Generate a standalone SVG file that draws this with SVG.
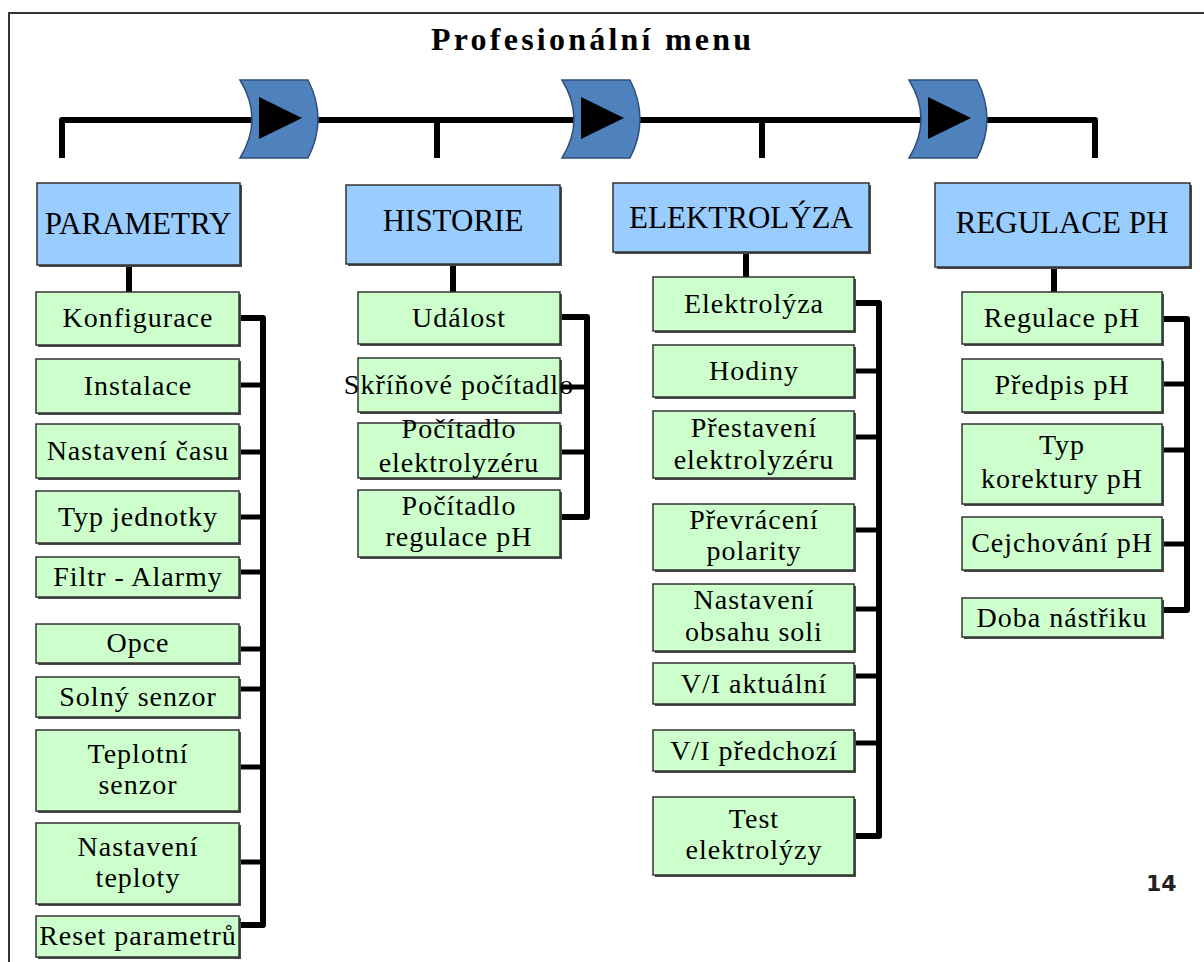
<svg xmlns="http://www.w3.org/2000/svg" width="1204" height="962" viewBox="0 0 1204 962">
<defs>
<style>
.frame{stroke:#333;stroke-width:2;fill:none}
.wire{stroke:#000;stroke-width:6;fill:none;stroke-linejoin:round;stroke-linecap:butt}
.stub{stroke:#000;stroke-width:5;fill:none}
.shadow{fill:#4a4a4a}
.hdr{fill:#99CCFF;stroke:#333;stroke-width:1.5}
.item{fill:#CCFFCC;stroke:#333;stroke-width:1.5}
.chev{fill:#4F81BD;stroke:#2F4F7A;stroke-width:1.5}
.tri{fill:#000}
text{font-family:"Liberation Serif","Times New Roman",serif;fill:#000;text-anchor:middle}
.ht{font-size:31px}
.it{font-size:28px;letter-spacing:1px}
.title{font-size:32px;font-weight:bold;text-anchor:start}
.pg{font-family:"DejaVu Sans","Liberation Sans",sans-serif;font-size:22px;font-weight:bold;fill:#222;text-anchor:start}
</style>
<g id="chevron">
<path class="chev" d="M240,80 L308,80 Q328,119 308,158 L240,158 Q264,119 240,80 Z"/>
<polygon class="tri" points="259,97 259,139 302,118"/>
</g>
</defs>
<rect width="1204" height="962" fill="#fff"/>
<path class="frame" d="M9,962 V13 H1204"/>
<text class="title" x="431" y="50" textLength="320" lengthAdjust="spacing">Profesionální menu</text>
<g id="connectors">
<path class="wire" d="M62,158 V120 H1095 V158"/>
<line class="wire" x1="437" y1="120" x2="437" y2="158"/>
<line class="wire" x1="762" y1="120" x2="762" y2="158"/>
<line class="wire" x1="129" y1="265" x2="129" y2="292"/>
<line class="wire" x1="453" y1="264" x2="453" y2="292"/>
<line class="wire" x1="746" y1="252" x2="746" y2="277"/>
<line class="wire" x1="1054" y1="267" x2="1054" y2="292"/>
<path class="wire" d="M239,318 H263 V925 H239"/>
<path class="stub" d="M239,385 H263 M239,452 H263 M239,517 H263 M239,572 H263 M239,649 H263 M239,689 H263 M239,767 H263 M239,862 H263"/>
<path class="wire" d="M560,317 H587 V517 H560"/>
<path class="stub" d="M560,387 H587 M560,452 H587"/>
<path class="wire" d="M854,303 H879 V836 H854"/>
<path class="stub" d="M854,371 H879 M854,437 H879 M854,530 H879 M854,609 H879 M854,676 H879 M854,743 H879"/>
<path class="wire" d="M1162,319 H1187 V610 H1162"/>
<path class="stub" d="M1162,384 H1187 M1162,450 H1187 M1162,544 H1187"/>
</g>
<g id="arrow1"><use href="#chevron"/></g>
<g id="arrow2" transform="translate(322,0)"><use href="#chevron"/></g>
<g id="arrow3" transform="translate(669,0)"><use href="#chevron"/></g>

<g id="h-parametry"><rect class="shadow" x="39" y="185" width="203" height="82"/><rect class="hdr" x="37" y="183" width="203" height="82"/><text class="ht" x="138" y="234">PARAMETRY</text></g>
<g id="h-historie"><rect class="shadow" x="348" y="187" width="214" height="79"/><rect class="hdr" x="346" y="185" width="214" height="79"/><text class="ht" x="453" y="231">HISTORIE</text></g>
<g id="h-elektrolyza"><rect class="shadow" x="615" y="185" width="256" height="69"/><rect class="hdr" x="613" y="183" width="256" height="69"/><text class="ht" x="741" y="228">ELEKTROLÝZA</text></g>
<g id="h-regulace"><rect class="shadow" x="937" y="185" width="255" height="84"/><rect class="hdr" x="935" y="183" width="255" height="84"/><text class="ht" x="1062" y="233">REGULACE PH</text></g>

<g id="p1"><rect class="shadow" x="38" y="294" width="203" height="53"/><rect class="item" x="36" y="292" width="203" height="53"/><text class="it" x="138" y="327">Konfigurace</text></g>
<g id="p2"><rect class="shadow" x="38" y="361" width="203" height="54"/><rect class="item" x="36" y="359" width="203" height="54"/><text class="it" x="138" y="395">Instalace</text></g>
<g id="p3"><rect class="shadow" x="38" y="426" width="203" height="54"/><rect class="item" x="36" y="424" width="203" height="54"/><text class="it" x="138" y="460">Nastavení času</text></g>
<g id="p4"><rect class="shadow" x="38" y="493" width="203" height="52"/><rect class="item" x="36" y="491" width="203" height="52"/><text class="it" x="138" y="526">Typ jednotky</text></g>
<g id="p5"><rect class="shadow" x="38" y="559" width="203" height="40"/><rect class="item" x="36" y="557" width="203" height="40"/><text class="it" x="138" y="586">Filtr - Alarmy</text></g>
<g id="p6"><rect class="shadow" x="38" y="626" width="203" height="39"/><rect class="item" x="36" y="624" width="203" height="39"/><text class="it" x="138" y="652">Opce</text></g>
<g id="p7"><rect class="shadow" x="38" y="679" width="203" height="40"/><rect class="item" x="36" y="677" width="203" height="40"/><text class="it" x="138" y="706">Solný senzor</text></g>
<g id="p8"><rect class="shadow" x="38" y="732" width="203" height="81"/><rect class="item" x="36" y="730" width="203" height="81"/><text class="it" x="138" y="763">Teplotní<tspan x="138" dy="31">senzor</tspan></text></g>
<g id="p9"><rect class="shadow" x="38" y="825" width="203" height="81"/><rect class="item" x="36" y="823" width="203" height="81"/><text class="it" x="138" y="856">Nastavení<tspan x="138" dy="31">teploty</tspan></text></g>
<g id="p10"><rect class="shadow" x="38" y="918" width="203" height="41"/><rect class="item" x="36" y="916" width="203" height="41"/><text class="it" x="138" y="945">Reset parametrů</text></g>

<g id="h1"><rect class="shadow" x="360" y="294" width="202" height="52"/><rect class="item" x="358" y="292" width="202" height="52"/><text class="it" x="459" y="327">Událost</text></g>
<g id="h2"><rect class="shadow" x="360" y="360" width="202" height="54"/><rect class="item" x="358" y="358" width="202" height="54"/><text class="it" x="459" y="394">Skříňové počítadlo</text></g>
<g id="h3"><rect class="shadow" x="360" y="425" width="202" height="55"/><rect class="item" x="358" y="423" width="202" height="55"/><text class="it" x="459" y="438">Počítadlo<tspan x="459" dy="34">elektrolyzéru</tspan></text></g>
<g id="h4"><rect class="shadow" x="360" y="492" width="202" height="67"/><rect class="item" x="358" y="490" width="202" height="67"/><text class="it" x="459" y="515">Počítadlo<tspan x="459" dy="31">regulace pH</tspan></text></g>

<g id="e1"><rect class="shadow" x="655" y="279" width="201" height="54"/><rect class="item" x="653" y="277" width="201" height="54"/><text class="it" x="754" y="313">Elektrolýza</text></g>
<g id="e2"><rect class="shadow" x="655" y="347" width="201" height="52"/><rect class="item" x="653" y="345" width="201" height="52"/><text class="it" x="754" y="380">Hodiny</text></g>
<g id="e3"><rect class="shadow" x="655" y="413" width="201" height="67"/><rect class="item" x="653" y="411" width="201" height="67"/><text class="it" x="754" y="437">Přestavení<tspan x="754" dy="32">elektrolyzéru</tspan></text></g>
<g id="e4"><rect class="shadow" x="655" y="506" width="201" height="66"/><rect class="item" x="653" y="504" width="201" height="66"/><text class="it" x="754" y="529">Převrácení<tspan x="754" dy="31">polarity</tspan></text></g>
<g id="e5"><rect class="shadow" x="655" y="586" width="201" height="67"/><rect class="item" x="653" y="584" width="201" height="67"/><text class="it" x="754" y="609">Nastavení<tspan x="754" dy="32">obsahu soli</tspan></text></g>
<g id="e6"><rect class="shadow" x="655" y="665" width="201" height="41"/><rect class="item" x="653" y="663" width="201" height="41"/><text class="it" x="754" y="693">V/I aktuální</text></g>
<g id="e7"><rect class="shadow" x="655" y="732" width="201" height="41"/><rect class="item" x="653" y="730" width="201" height="41"/><text class="it" x="754" y="760">V/I předchozí</text></g>
<g id="e8"><rect class="shadow" x="655" y="799" width="201" height="78"/><rect class="item" x="653" y="797" width="201" height="78"/><text class="it" x="754" y="828">Test<tspan x="754" dy="31">elektrolýzy</tspan></text></g>

<g id="r1"><rect class="shadow" x="964" y="294" width="200" height="52"/><rect class="item" x="962" y="292" width="200" height="52"/><text class="it" x="1062" y="327">Regulace pH</text></g>
<g id="r2"><rect class="shadow" x="964" y="361" width="200" height="53"/><rect class="item" x="962" y="359" width="200" height="53"/><text class="it" x="1062" y="394">Předpis pH</text></g>
<g id="r3"><rect class="shadow" x="964" y="426" width="200" height="80"/><rect class="item" x="962" y="424" width="200" height="80"/><text class="it" x="1062" y="454">Typ<tspan x="1062" dy="34">korektury pH</tspan></text></g>
<g id="r4"><rect class="shadow" x="964" y="519" width="200" height="53"/><rect class="item" x="962" y="517" width="200" height="53"/><text class="it" x="1062" y="552">Cejchování pH</text></g>
<g id="r5"><rect class="shadow" x="964" y="600" width="200" height="39"/><rect class="item" x="962" y="598" width="200" height="39"/><text class="it" x="1062" y="627">Doba nástřiku</text></g>

<text class="pg" x="1146" y="891">14</text>
</svg>
